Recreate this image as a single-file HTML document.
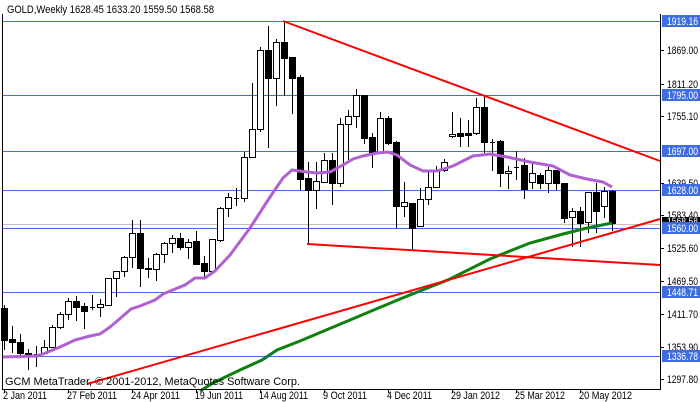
<!DOCTYPE html>
<html><head><meta charset="utf-8"><style>
html,body{margin:0;padding:0;background:#fff;width:700px;height:402px;overflow:hidden}
svg{display:block;font-family:"Liberation Sans","DejaVu Sans",sans-serif;font-size:11px}
</style></head><body>
<svg id="s" width="700" height="402" viewBox="0 0 700 402" xmlns="http://www.w3.org/2000/svg">
<rect width="700" height="402" fill="#fff"/>
<g stroke="#3c6ee0" stroke-width="1">
<line x1="2" y1="21.5" x2="660" y2="21.5"/>
<line x1="2" y1="95.5" x2="660" y2="95.5"/>
<line x1="2" y1="151.5" x2="660" y2="151.5"/>
<line x1="2" y1="190.5" x2="660" y2="190.5"/>
<line x1="2" y1="228.5" x2="660" y2="228.5"/>
<line x1="2" y1="292.5" x2="660" y2="292.5"/>
<line x1="2" y1="356.5" x2="660" y2="356.5"/>
</g>
<line x1="2" y1="224.5" x2="660" y2="224.5" stroke="#c0c0c0"/>
<g id="c"></g>
<polyline fill="none" stroke="#b060d0" stroke-width="3" points="2,357 36,356 43,354 60,347 75,340 90,336 100,334 110,327 123,316 131,309 140,306 155,300 163,294 175,289 185,285 195,278 205,278 215,271 230,255 250,228 270,197 283,178 292,170 307,172 317,173 330,172 343,165 353,159 363,156 377,153 387,152 397,155 410,165 423,171 437,171 453,166 473,156 490,154 507,157 530,162 553,166 570,175 587,179 603,182 612,187"/>
<polyline fill="none" stroke="#108010" stroke-width="3" points="200,391 213,383 240,370 262,360 277,350 300,341 350,320 400,299 450,279 490,259 530,243 563,234 587,228 612,223"/>
<g stroke="#ff0000" stroke-width="2" fill="none">
<line x1="283" y1="21" x2="660" y2="161"/>
<line x1="307" y1="244" x2="660" y2="265"/>
<line x1="87" y1="384" x2="660" y2="219"/>
</g>
<path d="M2.5 14V389.5H660.5V14" fill="none" stroke="#000"/>
<text x="7" y="13" fill="#000" textLength="207" lengthAdjust="spacingAndGlyphs">GOLD,Weekly  1628.45 1633.20 1559.50 1568.58</text>
<text x="5" y="385" fill="#000" textLength="295" lengthAdjust="spacingAndGlyphs">GCM MetaTrader, © 2001-2012, MetaQuotes Software Corp.</text>
<g fill="#000">
<g stroke="#000"><line x1="660" y1="50.5" x2="664" y2="50.5"/><line x1="660" y1="84.5" x2="664" y2="84.5"/><line x1="660" y1="116.5" x2="664" y2="116.5"/><line x1="660" y1="183.5" x2="664" y2="183.5"/><line x1="660" y1="215.5" x2="664" y2="215.5"/><line x1="660" y1="248.5" x2="664" y2="248.5"/><line x1="660" y1="281.5" x2="664" y2="281.5"/><line x1="660" y1="314.5" x2="664" y2="314.5"/><line x1="660" y1="347.5" x2="664" y2="347.5"/><line x1="660" y1="379.5" x2="664" y2="379.5"/></g>
<text x="667" y="54" textLength="31" lengthAdjust="spacingAndGlyphs">1869.00</text>
<text x="667" y="88" textLength="31" lengthAdjust="spacingAndGlyphs">1811.20</text>
<text x="667" y="120" textLength="31" lengthAdjust="spacingAndGlyphs">1755.10</text>
<text x="667" y="187" textLength="31" lengthAdjust="spacingAndGlyphs">1639.50</text>
<text x="667" y="219" textLength="31" lengthAdjust="spacingAndGlyphs">1583.40</text>
<text x="667" y="252" textLength="31" lengthAdjust="spacingAndGlyphs">1525.60</text>
<text x="667" y="285" textLength="31" lengthAdjust="spacingAndGlyphs">1469.50</text>
<text x="667" y="318" textLength="31" lengthAdjust="spacingAndGlyphs">1411.70</text>
<text x="667" y="351" textLength="31" lengthAdjust="spacingAndGlyphs">1353.90</text>
<text x="667" y="383" textLength="31" lengthAdjust="spacingAndGlyphs">1297.80</text>
</g>
<rect x="662" y="217" width="38" height="8" fill="#000"/>
<text x="667" y="225" fill="#fff" textLength="31" lengthAdjust="spacingAndGlyphs">1568.58</text>
<g fill="#3c6ee0">
<rect x="662" y="15" width="38" height="12"/><rect x="662" y="89" width="38" height="12"/><rect x="662" y="145" width="38" height="12"/><rect x="662" y="184" width="38" height="12"/><rect x="662" y="222" width="38" height="12"/><rect x="662" y="286" width="38" height="12"/><rect x="662" y="350" width="38" height="12"/>
</g>
<g fill="#fff">
<text x="667" y="25" textLength="31" lengthAdjust="spacingAndGlyphs">1919.16</text><text x="667" y="99" textLength="31" lengthAdjust="spacingAndGlyphs">1795.00</text><text x="667" y="155" textLength="31" lengthAdjust="spacingAndGlyphs">1697.00</text><text x="667" y="194" textLength="31" lengthAdjust="spacingAndGlyphs">1628.00</text><text x="667" y="232" textLength="31" lengthAdjust="spacingAndGlyphs">1560.00</text><text x="667" y="296" textLength="31" lengthAdjust="spacingAndGlyphs">1448.71</text><text x="667" y="360" textLength="31" lengthAdjust="spacingAndGlyphs">1336.78</text>
</g>
<g stroke="#000"><line x1="4.5" y1="389" x2="4.5" y2="393"/><line x1="68.5" y1="389" x2="68.5" y2="393"/><line x1="132.5" y1="389" x2="132.5" y2="393"/><line x1="196.5" y1="389" x2="196.5" y2="393"/><line x1="260.5" y1="389" x2="260.5" y2="393"/><line x1="324.5" y1="389" x2="324.5" y2="393"/><line x1="388.5" y1="389" x2="388.5" y2="393"/><line x1="452.5" y1="389" x2="452.5" y2="393"/><line x1="516.5" y1="389" x2="516.5" y2="393"/><line x1="580.5" y1="389" x2="580.5" y2="393"/></g>
<g fill="#000">
<text x="3" y="399" textLength="44" lengthAdjust="spacingAndGlyphs">2 Jan 2011</text><text x="67" y="399" textLength="50" lengthAdjust="spacingAndGlyphs">27 Feb 2011</text><text x="131" y="399" textLength="49" lengthAdjust="spacingAndGlyphs">24 Apr 2011</text><text x="195" y="399" textLength="48" lengthAdjust="spacingAndGlyphs">19 Jun 2011</text><text x="259" y="399" textLength="49" lengthAdjust="spacingAndGlyphs">14 Aug 2011</text><text x="323" y="399" textLength="44" lengthAdjust="spacingAndGlyphs">9 Oct 2011</text><text x="387" y="399" textLength="45" lengthAdjust="spacingAndGlyphs">4 Dec 2011</text><text x="451" y="399" textLength="49" lengthAdjust="spacingAndGlyphs">29 Jan 2012</text><text x="515" y="399" textLength="50" lengthAdjust="spacingAndGlyphs">25 Mar 2012</text><text x="579" y="399" textLength="53" lengthAdjust="spacingAndGlyphs">20 May 2012</text>
</g>
</svg>
<script>
var d=[[308,340,305,350],[339,342,326,353],[342,353,334,357],[353,354,349,370],[354,354,346,367],[353,347,340,353],[347,327,325,348],[327,314,312,329],[314,301,298,320],[301,307,296,321],[306,311,303,329],[307,307,295,310],[307,304,299,317],[305,278,278,305],[278,271,271,297],[271,257,256,277],[257,233,220,268],[233,268,220,287],[268,269,258,278],[269,254,253,281],[254,243,242,263],[243,238,235,253],[238,247,233,250],[247,242,239,259],[241,264,231,264],[263,271,256,277],[271,239,239,271],[240,208,207,242],[208,197,193,217],[198,198,188,206],[198,157,152,202],[157,129,83,158],[129,50,47,132],[50,78,26,148],[78,42,39,106],[42,58,21,96],[57,78,57,114],[77,179,75,190],[178,190,162,245],[190,181,162,209],[182,160,153,182],[160,183,153,205],[183,124,118,187],[124,116,110,160],[116,95,89,128],[95,138,95,144],[137,153,133,168],[153,118,112,153],[118,143,116,145],[142,206,141,228],[206,202,182,217],[203,228,203,250],[226,199,188,227],[199,187,172,205],[187,170,166,188],[170,162,159,172],[136,134,112,138],[133,136,118,147],[133,135,120,147],[133,107,98,135],[107,142,96,153],[142,142,139,171],[141,173,140,187],[173,171,166,189],[167,167,151,180],[165,189,158,199],[182,173,161,189],[175,183,173,189],[183,170,167,193],[170,183,170,190],[183,218,183,223],[217,211,208,247],[211,223,207,247],[222,192,192,233],[192,211,183,233],[206,191,187,218],[191,223,190,231]];
var g=document.getElementById('c'),h='';
d.forEach(function(c,i){var x=4+8*i,o=c[0],cl=c[1],t=Math.min(o,cl),b=Math.max(o,cl);
h+='<line x1="'+(x+.5)+'" y1="'+c[2]+'" x2="'+(x+.5)+'" y2="'+c[3]+'" stroke="#000"/>';
if(b-t<1){h+='<line x1="'+(x-2)+'" y1="'+(t+.5)+'" x2="'+(x+3)+'" y2="'+(t+.5)+'" stroke="#000"/>';}
else if(cl<o){h+='<rect x="'+(x-2.5)+'" y="'+(t+.5)+'" width="6" height="'+(b-t)+'" fill="#fff" stroke="#000"/>';}
else{h+='<rect x="'+(x-3)+'" y="'+t+'" width="7" height="'+(b-t+1)+'" fill="#000"/>';}});
g.innerHTML=h;
</script>
</body></html>
